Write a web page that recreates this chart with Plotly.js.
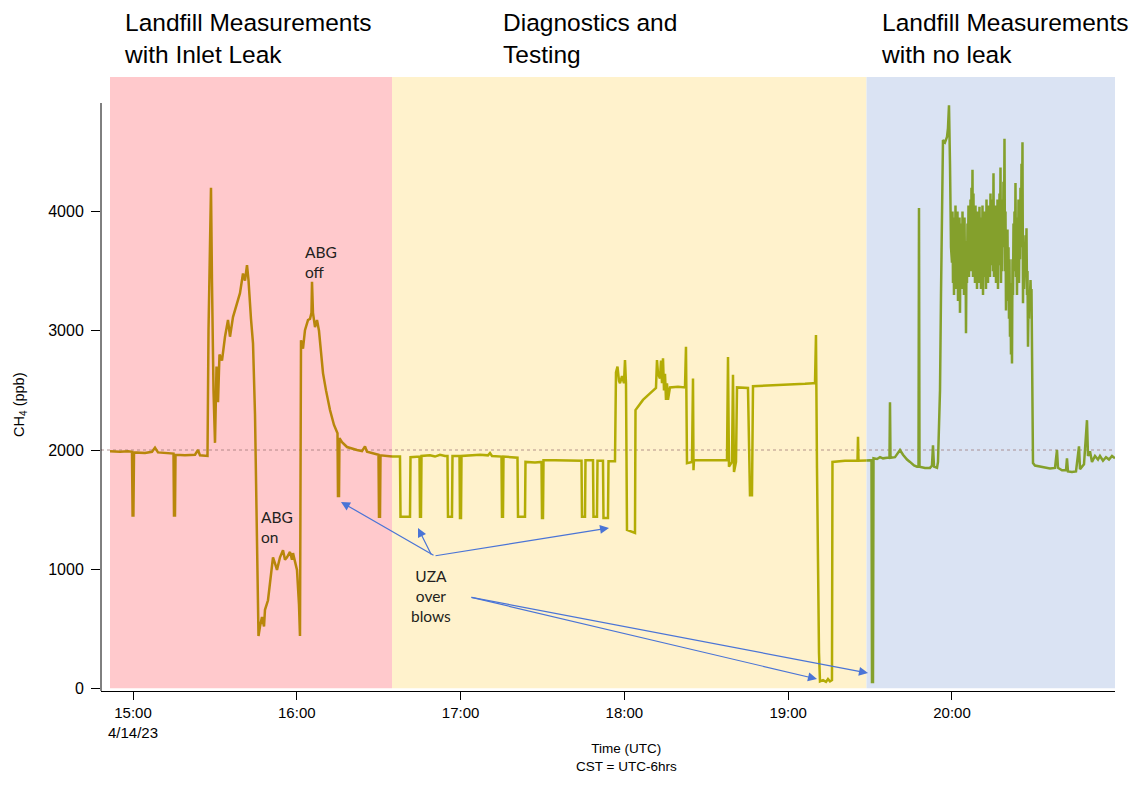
<!DOCTYPE html>
<html>
<head>
<meta charset="utf-8">
<script src="https://cdn.plot.ly/plotly-3.0.1.min.js"></script>
<style>html,body{margin:0;padding:0;background:#fff;}#chart{width:1130px;height:791px;}</style>
</head>
<body>
<div id="chart"></div>
<script>
// Times are minutes after 15:00 UTC on 4/14/23; values are CH4 in ppb
const redMin = [-8.42,-4.76,-1.83,-0.37,-0.15,0.15,0.37,4.40,6.96,8.06,
9.16,11.72,14.84,15.02,15.38,15.57,19.05,22.71,23.81,24.54,
27.29,27.66,28.21,28.57,28.94,29.49,30.04,30.59,31.14,31.68,
32.60,33.70,34.80,35.53,36.63,37.73,39.19,40.29,41.03,41.76,
42.31,43.22,43.96,44.69,45.42,45.97,46.52,47.25,47.99,48.35,
49.45,50.18,51.28,52.01,52.75,53.85,54.95,55.68,56.41,57.51,
58.24,58.61,59.34,60.07,60.81,61.17,61.54,62.27,63.00,64.10,
64.84,65.38,65.57,65.93,66.67,67.40,68.13,68.50,69.60,70.70,
72.16,73.63,74.91,75.09,75.46,75.64,76.56,78.39,80.22,82.05,
83.88,84.98,85.71,88.64,89.93,90.11,90.48,90.66,93.41,94.87];
const redPpb = [1990,1985,1990,1985,1450,1450,1980,1975,1985,2020,
1980,1975,1970,1450,1450,1960,1955,1960,2000,1955,
1950,3000,3800,4200,3400,2500,2060,2700,2400,2800,
2750,2950,3090,2950,3115,3200,3315,3480,3420,3550,
3425,3100,2895,2300,1200,440,520,600,520,660,
740,900,1100,1050,995,1100,1160,1080,1100,1145,
1080,1135,1050,995,700,440,2920,2850,3005,3090,
3100,3150,3410,3150,3030,3090,3000,2895,2645,2500,
2335,2210,2140,1615,1615,2100,2065,2025,2010,2000,
1990,2030,1985,1965,1960,1440,1440,1955,1950,1945];

const yellowMin = [94.87,96.34,97.80,97.99,101.47,101.65,104.95,105.13,105.49,105.68,
108.79,110.62,112.45,114.29,115.20,115.38,116.85,117.03,119.60,119.78,
120.15,120.33,123.44,127.11,130.04,130.77,131.50,134.98,135.16,135.53,
135.71,138.10,140.84,141.03,143.59,143.77,147.25,149.64,149.82,150.18,
150.37,154.58,160.07,164.29,164.47,165.57,165.75,168.50,168.68,169.96,
170.15,172.16,172.34,173.99,174.18,176.56,176.92,177.47,178.02,178.39,
179.12,179.85,180.22,180.59,180.95,182.42,183.88,184.07,184.98,186.81,
189.38,191.57,191.94,192.31,193.04,193.41,193.77,194.14,194.51,194.87,
195.24,195.60,195.97,196.70,199.63,202.20,202.56,202.93,204.76,205.13,
205.31,205.49,211.36,217.58,217.95,218.31,219.41,219.78,220.15,220.88,
221.25,225.27,226.01,226.74,227.11,233.33,240.66,246.15,249.08,249.82,
250.18,250.37,250.55,251.28,251.65,252.75,253.85,254.58,255.31,256.04,
256.22,260.81,265.39,265.57,265.75,268.68];
const yellowPpb = [1945,1945,1945,1440,1440,1940,1945,1440,1440,1950,
1955,1945,1960,1950,1950,1440,1440,1950,1950,1430,
1430,1950,1955,1960,1955,1975,1950,1945,1440,1440,
1945,1940,1935,1440,1440,1900,1895,1900,1430,1430,
1915,1915,1912,1910,1440,1440,1915,1915,1440,1440,
1910,1910,1430,1430,1905,1905,2650,2700,2580,2560,
2620,2560,2755,2560,1330,1315,1305,2335,2360,2420,
2475,2520,2755,2640,2600,2750,2560,2770,2500,2640,
2420,2560,2420,2525,2530,2525,2865,1890,1900,2600,
1830,1915,1915,1915,2780,1860,1900,2630,1815,1900,
2525,2520,1620,1620,2535,2540,2550,2555,2560,2560,
2965,1890,1850,300,60,70,55,80,60,70,
1900,1910,1910,2110,1910,1912];

// no-leak period: approach, plume burst, and tail
const blueRiseMin = [268.68,270.51,270.70,271.06,271.25,272.53,273.63,274.73,276.19,277.11,
277.29,277.47,279.12,280.95,282.05,283.52,284.62,286.08,287.18,287.73,
287.91,288.10,290.11,291.94,292.67,293.04,293.41,294.51,294.87,295.61,
295.97,296.34,296.70,297.44,298.17,298.53,298.90,299.27,299.64];
const blueRisePpb = [1912,1915,55,55,1930,1925,1940,1930,1935,1935,
2400,1935,1940,2000,1960,1920,1900,1870,1860,1860,
4030,1860,1850,1850,1870,2040,1860,1850,1900,2500,
3300,4100,4600,4580,4625,4700,4890,4400,3700];
const blueBurstMin = [300.00,300.18,300.37,300.55,300.73,300.92,301.10,301.28,301.47,301.65,
301.83,302.01,302.20,302.38,302.56,302.75,302.93,303.11,303.30,303.48,
303.66,303.85,304.03,304.21,304.40,304.58,304.76,304.95,305.13,305.31,
305.49,305.68,305.86,306.04,306.23,306.41,306.59,306.78,306.96,307.14,
307.33,307.51,307.69,307.87,308.06,308.24,308.42,308.61,308.79,308.97,
309.16,309.34,309.52,309.71,309.89,310.07,310.26,310.44,310.62,310.81,
310.99,311.17,311.36,311.54,311.72,311.90,312.09,312.27,312.45,312.64,
312.82,313.00,313.19,313.37,313.55,313.74,313.92,314.10,314.29,314.47,
314.65,314.84,315.02,315.20,315.38,315.57,315.75,315.93,316.12,316.30,
316.48,316.67,316.85,317.03,317.22,317.40,317.58,317.77,317.95,318.13,
318.32,318.50,318.68,318.86,319.05,319.23,319.42,319.60,319.78,319.97,
320.15,320.33,320.51,320.70,320.88,321.06,321.25,321.43,321.61,321.80,
321.98,322.16,322.35,322.53,322.71,322.89,323.08,323.26,323.44,323.63,
323.81,323.99,324.18,324.36,324.54,324.73,324.91,325.09,325.28,325.46,
325.64,325.82,326.01,326.19,326.38,326.56,326.74,326.93,327.11,327.29,
327.48,327.66,327.84,328.02,328.21,328.39,328.57,328.76,328.94,329.12];
const blueBurstPpb = [3570,4000,3400,3950,3300,3900,3550,4050,3350,3850,
3600,4000,3250,3800,3500,3950,3150,3700,3450,3900,
3350,4000,3550,3850,3300,3950,3500,3750,2980,3600,
3400,3900,3550,4050,3450,3850,3600,4100,3500,4200,
3700,4350,3450,4150,3600,3900,3400,4050,3550,3950,
3350,4000,3500,3900,3400,4040,3600,3950,3350,3900,
3500,4050,3300,3850,3450,4000,3550,3900,3350,4100,
3500,3950,3400,4050,3600,4000,3450,4150,3550,3950,
3700,4100,3500,4320,3450,3950,3550,4050,3400,3900,
3500,4100,3350,3950,3550,4150,3600,4370,3400,3950,
3500,4100,3700,4250,3800,4610,3500,4000,3170,3700,
3400,3850,3250,3700,3100,3600,2950,3400,2800,3300,
2725,3600,3300,3900,3500,4000,3600,4240,3450,3900,
3300,3950,3500,4100,3400,3900,3600,4200,3700,4400,
3800,4580,3230,3700,3350,3600,3500,3800,3450,3860,
3300,3500,2865,3200,3100,3300,3300,3425,3250,3350];
const blueTailMin = [329.31,329.67,330.40,332.23,334.07,335.90,337.73,338.46,338.83,340.29,
341.76,342.12,342.49,343.96,345.42,346.52,346.89,348.35,349.45,349.82,
350.55,351.28,352.38,353.48,354.21,355.31,356.41,357.51,358.61,359.71];
const blueTailPpb = [2500,1890,1870,1860,1850,1845,1850,2000,1850,1830,
1830,1930,1820,1815,1820,2030,1840,1880,2250,1950,
1990,1900,1950,1920,1950,1910,1940,1920,1950,1930];

const phaseStart = [-8.42, 94.87, 268.68];
const phaseEnd = [94.87, 268.68, 359.71];
const phaseColors = ['#FFC9CC', '#FFF2CC', '#DAE3F3'];
const phaseLabels = ['Landfill Measurements<br>with Inlet Leak', 'Diagnostics and<br>Testing', 'Landfill Measurements<br>with no leak'];
const lineColors = ['#B8860B', '#B3AC05', '#84A02C'];

const tickMin = [0, 60, 120, 180, 240, 300];
const tickText = ['15:00<br>4/14/23', '16:00', '17:00', '18:00', '19:00', '20:00'];
const yTicks = [0, 1000, 2000, 3000, 4000];
const xRangeMin = [-11.72, 359.71];
const yRange = [-21, 5128];
const ambient = 2000;

function pad(n) { return (n < 10 ? '0' : '') + n; }
function toTime(m) {
  const s = 15 * 3600 + m * 60;
  const h = Math.floor(s / 3600);
  const mi = Math.floor((s - h * 3600) / 60);
  const sec = s - h * 3600 - mi * 60;
  return '2023-04-14 ' + pad(h) + ':' + pad(mi) + ':' + (sec < 10 ? '0' : '') + sec.toFixed(2);
}

const blueMin = blueRiseMin.concat(blueBurstMin, blueTailMin);
const bluePpb = blueRisePpb.concat(blueBurstPpb, blueTailPpb);

const series = [[redMin, redPpb], [yellowMin, yellowPpb], [blueMin, bluePpb]];
const traces = series.map((s, i) => ({
  type: 'scatter', mode: 'lines',
  x: s[0].map(toTime), y: s[1],
  line: {color: lineColors[i], width: 2.5},
  hoverinfo: 'x+y'
}));

const shapes = [];
phaseStart.forEach((st, i) => {
  shapes.push({type: 'rect', layer: 'below', xref: 'x', yref: 'paper',
    x0: toTime(st), x1: toTime(phaseEnd[i]), y0: 0.0045, y1: 1,
    fillcolor: phaseColors[i], line: {width: 0}});
});
shapes.push({type: 'line', layer: 'below', xref: 'paper', yref: 'y', x0: 0, x1: 1, y0: ambient, y1: ambient,
  line: {color: 'rgba(150,110,110,0.7)', width: 1, dash: 'dot'}});
shapes.push({type: 'line', xref: 'paper', yref: 'y', x0: 0, x1: 0, y0: yRange[0], y1: 4910,
  line: {color: '#000', width: 1}});

const annFont = {family: 'Lato, Open Sans, sans-serif', size: 15.5, color: '#231F20'};
const arrowColor = '#4A74D6';
const titleFont = {family: 'Liberation Sans, Arial, sans-serif', size: 24.5, color: '#000'};
const annotations = [
  {xref: 'paper', yref: 'paper', x: 0.0207, y: 1.0635, xanchor: 'left', yanchor: 'middle', align: 'left', showarrow: false,
    text: phaseLabels[0], font: titleFont},
  {xref: 'paper', yref: 'paper', x: 0.3945, y: 1.0635, xanchor: 'left', yanchor: 'middle', align: 'left', showarrow: false,
    text: phaseLabels[1], font: titleFont},
  {xref: 'paper', yref: 'paper', x: 0.7673, y: 1.0635, xanchor: 'left', yanchor: 'middle', align: 'left', showarrow: false,
    text: phaseLabels[2], font: titleFont},
  {xref: 'paper', yref: 'paper', x: 0.1992, y: 0.6979, xanchor: 'left', yanchor: 'middle', align: 'left', showarrow: false,
    text: 'ABG<br>off', font: annFont},
  {xref: 'paper', yref: 'paper', x: 0.1558, y: 0.2679, xanchor: 'left', yanchor: 'middle', align: 'left', showarrow: false,
    text: 'ABG<br>on', font: annFont},
  {xref: 'paper', yref: 'paper', x: 0.3254, y: 0.1547, xanchor: 'center', yanchor: 'middle', align: 'center', showarrow: false,
    text: 'UZA<br>over<br>blows', font: annFont},
  {xref: 'paper', yref: 'paper', x: -0.0799, y: 0.4658, xanchor: 'center', yanchor: 'middle', textangle: -90, showarrow: false,
    text: 'CH<sub>4</sub> (ppb)', font: {family: 'Liberation Sans, Arial, sans-serif', size: 14.5, color: '#000'}},
  {xref: 'paper', yref: 'paper', x: 0.5178, y: -0.1091, xanchor: 'center', yanchor: 'middle', align: 'center', showarrow: false,
    text: 'Time (UTC)<br>CST = UTC-6hrs', font: {family: 'Liberation Sans, Arial, sans-serif', size: 13.5, color: '#000'}}
];
const arrows = [
  [0.2367, 0.3078, 94, 54],
  [0.3126, 0.2655, 14, 28],
  [0.5010, 0.2655, -175, 28],
  [0.7061, 0.0195, -347, -82],
  [0.7564, 0.0293, -398, -76]
];
arrows.forEach(a => annotations.push({xref: 'paper', yref: 'paper', x: a[0], y: a[1], ax: a[2], ay: a[3],
  text: '', showarrow: true, arrowhead: 2, arrowsize: 1.5, arrowwidth: 1.2, arrowcolor: arrowColor, standoff: 0}));

const layout = {
  width: 1130, height: 791,
  margin: {l: 101, r: 15, t: 77, b: 100, pad: 0},
  paper_bgcolor: '#fff', plot_bgcolor: 'rgba(0,0,0,0)',
  showlegend: false,
  font: {family: 'Liberation Sans, Arial, sans-serif', color: '#000'},
  xaxis: {
    type: 'date', range: xRangeMin.map(toTime),
    tickvals: tickMin.map(toTime), ticktext: tickText,
    ticks: 'outside', ticklen: 8, tickwidth: 1, tickcolor: '#000',
    showline: true, linecolor: '#000', linewidth: 1,
    showgrid: false, zeroline: false,
    tickfont: {family: 'Liberation Sans, Arial, sans-serif', size: 15, color: '#000'}
  },
  yaxis: {
    range: yRange, tickvals: yTicks, ticktext: yTicks.map(String),
    ticks: 'outside', ticklen: 9, tickwidth: 1, tickcolor: '#000',
    showline: false, showgrid: false, zeroline: false,
    ticklabelstandoff: 4,
    tickfont: {family: 'Liberation Sans, Arial, sans-serif', size: 16, color: '#000'}
  },
  shapes: shapes,
  annotations: annotations
};

Plotly.newPlot('chart', traces, layout, {displayModeBar: false, staticPlot: true});
</script>
</body>
</html>
